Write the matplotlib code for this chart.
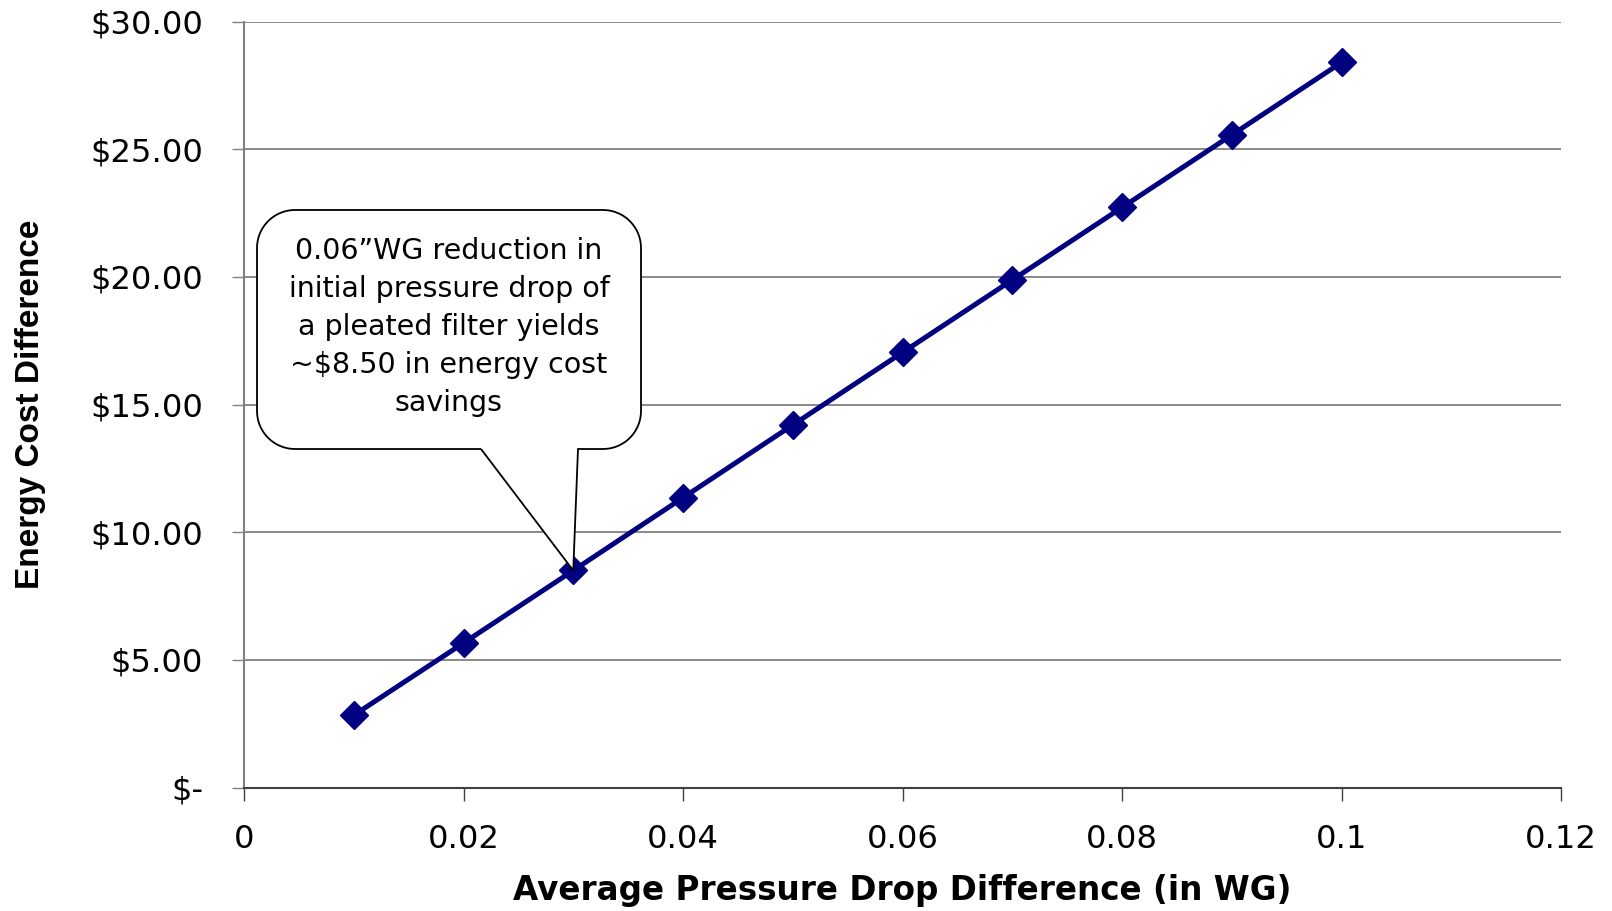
import matplotlib.pyplot as plt
import numpy as np
from matplotlib.path import Path
from matplotlib.patches import PathPatch

# data
pressure_drop = [0.01, 0.02, 0.03, 0.04, 0.05, 0.06, 0.07, 0.08, 0.09, 0.10]
energy_cost = [2.83, 5.66, 8.50, 11.35, 14.20, 17.04, 19.88, 22.72, 25.56, 28.40]

x_ticks = [0, 0.02, 0.04, 0.06, 0.08, 0.1, 0.12]
x_tick_labels = ["0", "0.02", "0.04", "0.06", "0.08", "0.1", "0.12"]
y_ticks = [0, 5, 10, 15, 20, 25, 30]
y_tick_labels = ["$-", "$5.00", "$10.00", "$15.00", "$20.00", "$25.00", "$30.00"]

callout = "0.06\u201dWG reduction in\ninitial pressure drop of\na pleated filter yields\n~$8.50 in energy cost\nsavings"
callout_point = (0.03, 8.50)

W, H = 1612, 911
fig = plt.figure(figsize=(W / 100, H / 100), dpi=100)
ax_l, ax_r, ax_t, ax_b = 244, 1561, 21.6, 787.5
ax = fig.add_axes([ax_l / W, 1 - ax_b / H, (ax_r - ax_l) / W, (ax_b - ax_t) / H])

ax.set_xlim(0, 0.12)
ax.set_ylim(0, 30)
ax.yaxis.grid(True, color="#808080", lw=1.3)
ax.set_axisbelow(True)
for s in ["top", "right"]:
    ax.spines[s].set_visible(False)
ax.spines["left"].set_color("#808080")
ax.spines["left"].set_linewidth(1.5)
ax.spines["bottom"].set_color("#404040")
ax.spines["bottom"].set_linewidth(1.5)

ax.plot(pressure_drop, energy_cost, color="#000080", lw=3.6, marker="D",
        markersize=14, zorder=3, clip_on=False)

ax.set_xticks(x_ticks)
ax.set_xticklabels(x_tick_labels)
ax.set_yticks(y_ticks)
ax.set_yticklabels(y_tick_labels)
ax.tick_params(axis="x", direction="out", length=9, width=1, color="#404040",
               pad=17.5, labelsize=23.2)
ax.tick_params(axis="y", direction="out", length=9, width=1, color="#808080",
               pad=20.5, labelsize=23.2)
for lab in ax.get_xticklabels() + ax.get_yticklabels():
    lab.set_family("DejaVu Sans")

ax.text(-0.162, 0.5, "Energy Cost Difference", transform=ax.transAxes,
        rotation=90, ha="center", va="center", fontsize=24, fontweight="bold",
        family="Liberation Sans")
ax.text(0.4996, -0.134, "Average Pressure Drop Difference (in WG)",
        transform=ax.transAxes, ha="center", va="center", fontsize=23.5,
        fontweight="bold", family="DejaVu Sans")

# callout bubble, built in data units with pixel-sized rounded corners
px_x = 0.12 / (ax_r - ax_l)
px_y = 30 / (ax_b - ax_t)
def dx(px): return (px - ax_l) * px_x
def dy(py): return (ax_b - py) * px_y

x0, x1 = dx(257), dx(641)
y_top, y_bot = dy(210), dy(449)
tail_l, tail_r = dx(481), dx(578)
rx, ry = 38 * px_x, 38 * px_y

def arc(cx, cy, a0, a1):
    t = np.radians(np.linspace(a0, a1, 20))
    return list(zip(cx + rx * np.cos(t), cy + ry * np.sin(t)))

pts = [(tail_l, y_bot), callout_point, (tail_r, y_bot)]
pts += arc(x1 - rx, y_bot + ry, 270, 360)
pts += arc(x1 - rx, y_top - ry, 0, 90)
pts += arc(x0 + rx, y_top - ry, 90, 180)
pts += arc(x0 + rx, y_bot + ry, 180, 270)
pts.append((tail_l, y_bot))
bubble = PathPatch(Path(pts), facecolor="white", edgecolor="black", lw=1.3,
                   zorder=4, clip_on=False)
ax.add_patch(bubble)
ax.text((x0 + x1) / 2, dy(327), callout, ha="center", va="center",
        fontsize=20.5, family="DejaVu Sans", linespacing=1.46, zorder=5)

fig.savefig("out.png", dpi=100)
